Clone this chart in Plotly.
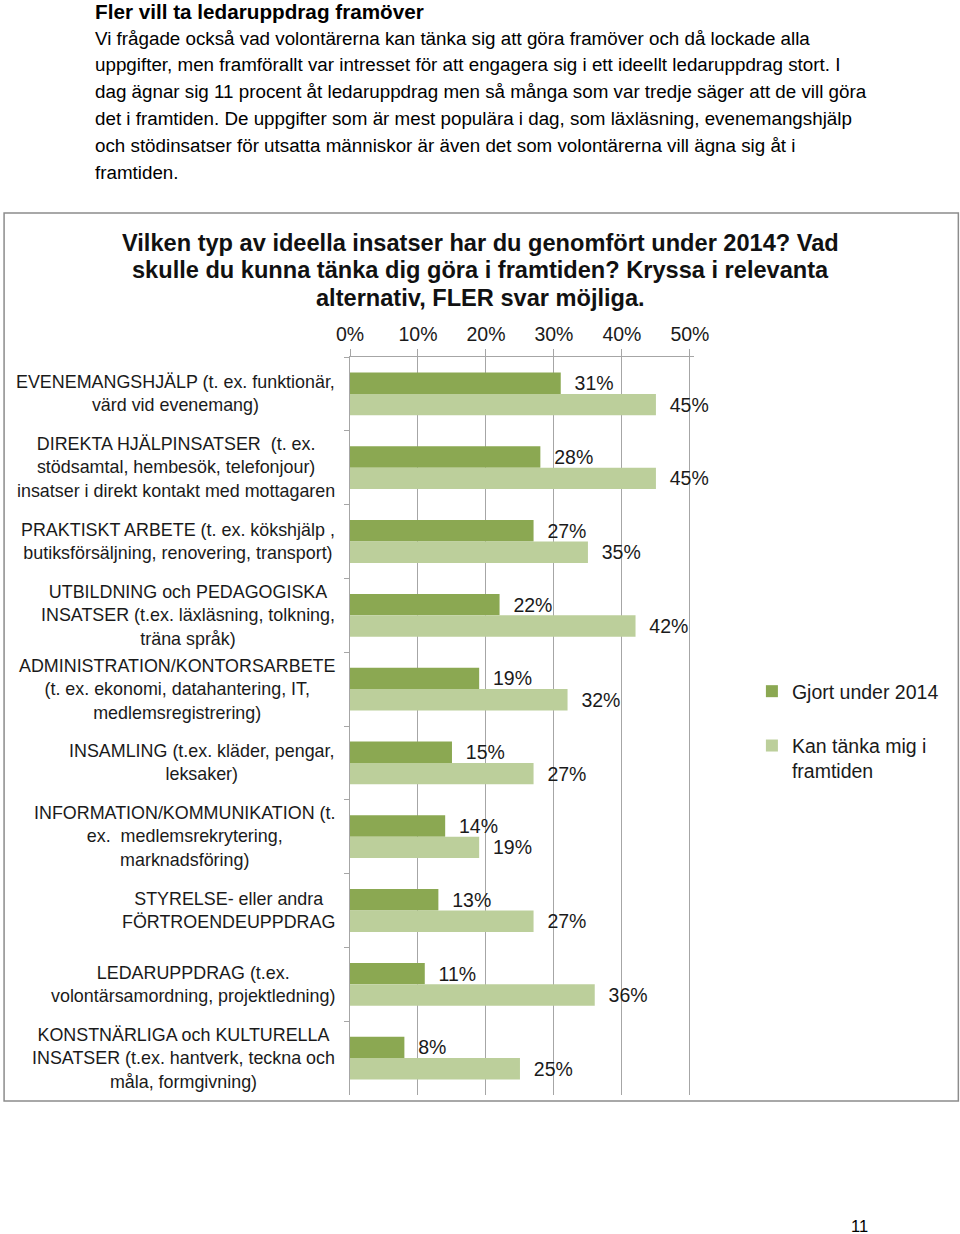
import plotly.graph_objects as go

categories = [
    "EVENEMANGSHJÄLP (t. ex. funktionär,<br>värd vid evenemang)",
    "DIREKTA HJÄLPINSATSER  (t. ex.<br>stödsamtal, hembesök, telefonjour)<br>insatser i direkt kontakt med mottagaren",
    "PRAKTISKT ARBETE (t. ex. kökshjälp ,<br>butiksförsäljning, renovering, transport)",
    "UTBILDNING och PEDAGOGISKA<br>INSATSER (t.ex. läxläsning, tolkning,<br>träna språk)",
    "ADMINISTRATION/KONTORSARBETE<br>(t. ex. ekonomi, datahantering, IT,<br>medlemsregistrering)",
    "INSAMLING (t.ex. kläder, pengar,<br>leksaker)",
    "INFORMATION/KOMMUNIKATION (t.<br>ex.  medlemsrekrytering,<br>marknadsföring)",
    "STYRELSE- eller andra<br>FÖRTROENDEUPPDRAG",
    "LEDARUPPDRAG (t.ex.<br>volontärsamordning, projektledning)",
    "KONSTNÄRLIGA och KULTURELLA<br>INSATSER (t.ex. hantverk, teckna och<br>måla, formgivning)",
]
gjort_2014 = [31, 28, 27, 22, 19, 15, 14, 13, 11, 8]
kan_tanka = [45, 45, 35, 42, 32, 27, 19, 27, 36, 25]
series_names = ["Gjort under 2014", "Kan tänka mig i<br>framtiden"]
x_ticks = [0, 10, 20, 30, 40, 50]
x_tick_labels = [f"{v}%" for v in x_ticks]

title_lines = [
    "Vilken typ av ideella insatser har du genomfört under 2014? Vad",
    "skulle du kunna tänka dig göra i framtiden? Kryssa i relevanta",
    "alternativ, FLER svar möjliga.",
]
header = "Fler vill ta ledaruppdrag framöver"
body_lines = [
    "Vi frågade också vad volontärerna kan tänka sig att göra framöver och då lockade alla",
    "uppgifter, men framförallt var intresset för att engagera sig i ett ideellt ledaruppdrag stort. I",
    "dag ägnar sig 11 procent åt ledaruppdrag men så många som var tredje säger att de vill göra",
    "det i framtiden. De uppgifter som är mest populära i dag, som läxläsning, evenemangshjälp",
    "och stödinsatser för utsatta människor är även det som volontärerna vill ägna sig åt i",
    "framtiden.",
]
page_number = "11"

FONT = "Liberation Sans, Arial, Helvetica, sans-serif"
DARK = "#8ba852"
LIGHT = "#bccf9b"
GRID = "#a6a6a6"

W, H = 960, 1234
XMAX = 50.6                      # axis range end (a bit past 50% so its gridline is drawn)
PX_PER_PCT = 6.8                 # 0% at x=350, 50% at x=690
PL, PT, PB = 350, 357, 1095
PR = PL + PX_PER_PCT * XMAX
L, R, T, B = PL, W - PR, PT, H - PB
PW, PH = W - L - R, H - T - B


def px(x):
    return (x - L) / PW


def py(y):
    return (H - B - y) / PH


fig = go.Figure()
for name, vals, col, grp in [(series_names[0], gjort_2014, DARK, "a"),
                              (series_names[1], kan_tanka, LIGHT, "b")]:
    fig.add_trace(go.Bar(
        y=categories, x=vals, orientation="h", name=name,
        marker=dict(color=col, line=dict(width=0)),
        text=[f"\u00a0\u00a0{v}%" for v in vals], textposition="outside",
        constraintext="none", cliponaxis=False,
        textfont=dict(family=FONT, size=19.5, color="#1a1a1a"),
        legendgroup=grp, hoverinfo="skip",
    ))

annotations = []
for c in categories:
    annotations.append(dict(
        x=0, xref="paper", y=c, yref="y", text=c, showarrow=False,
        xanchor="right", yanchor="middle", align="center", xshift=-13,
        font=dict(family=FONT, size=17.9, color="#1a1a1a"),
    ))

for i, line in enumerate(title_lines):
    annotations.append(dict(
        x=px(481), xref="paper", y=py(243 + i * 27.5), yref="paper", text=f"<b>{line}</b>",
        showarrow=False, xanchor="center", yanchor="middle", align="center",
        font=dict(family=FONT, size=23.6, color="#111111"),
    ))
annotations.append(dict(
    x=px(93), xref="paper", y=py(12), yref="paper", text=f"<b>{header}</b>",
    showarrow=False, xanchor="left", yanchor="middle", align="left",
    font=dict(family=FONT, size=20.7, color="#000000"),
))
for i, line in enumerate(body_lines):
    annotations.append(dict(
        x=px(93), xref="paper", y=py(38 + i * 26.8), yref="paper", text=line,
        showarrow=False, xanchor="left", yanchor="middle", align="left",
        font=dict(family=FONT, size=18.8, color="#000000"),
    ))
annotations.append(dict(
    x=px(860), xref="paper", y=py(1226), yref="paper", text=page_number,
    showarrow=False, xanchor="center", yanchor="middle",
    font=dict(family=FONT, size=16.5, color="#000000"),
))

fig.update_layout(
    width=W, height=H,
    margin=dict(l=L, r=R, t=T, b=B, autoexpand=False),
    paper_bgcolor="white", plot_bgcolor="white",
    barmode="group", bargap=0.42, bargroupgap=0,
    font=dict(family=FONT, color="#1a1a1a"),
    showlegend=True,
    legend=dict(
        x=px(752), y=py(672), xanchor="left", yanchor="top",
        traceorder="grouped", tracegroupgap=26, valign="top",
        font=dict(family=FONT, size=19.5, color="#1a1a1a"),
        bgcolor="rgba(0,0,0,0)",
    ),
    xaxis=dict(
        side="top", range=[0, XMAX], tickmode="array", tickvals=x_ticks, ticktext=x_tick_labels,
        showgrid=True, gridcolor=GRID, gridwidth=1.3,
        showline=True, linecolor=GRID, linewidth=1.3,
        ticks="outside", ticklen=7, tickcolor=GRID, tickwidth=1.3,
        tickfont=dict(family=FONT, size=19.5, color="#1a1a1a"),
        zeroline=False, fixedrange=True,
    ),
    yaxis=dict(
        autorange="reversed", showticklabels=False,
        showline=True, linecolor=GRID, linewidth=1.3,
        ticks="outside", tickson="boundaries", ticklen=5, tickcolor=GRID,
        showgrid=False, zeroline=False, fixedrange=True,
    ),
    annotations=annotations,
    shapes=[dict(type="rect", xref="paper", yref="paper",
                 x0=px(4), x1=px(958.5), y0=py(1101), y1=py(213),
                 line=dict(color="#8c8c8c", width=1.5), fillcolor="rgba(0,0,0,0)",
                 layer="below")],
)

# remove the browser's default 8px body margin so the page matches the figure
fig.write_html("out.html", config={"displayModeBar": False},
               post_script="document.body.style.margin='0px';")
